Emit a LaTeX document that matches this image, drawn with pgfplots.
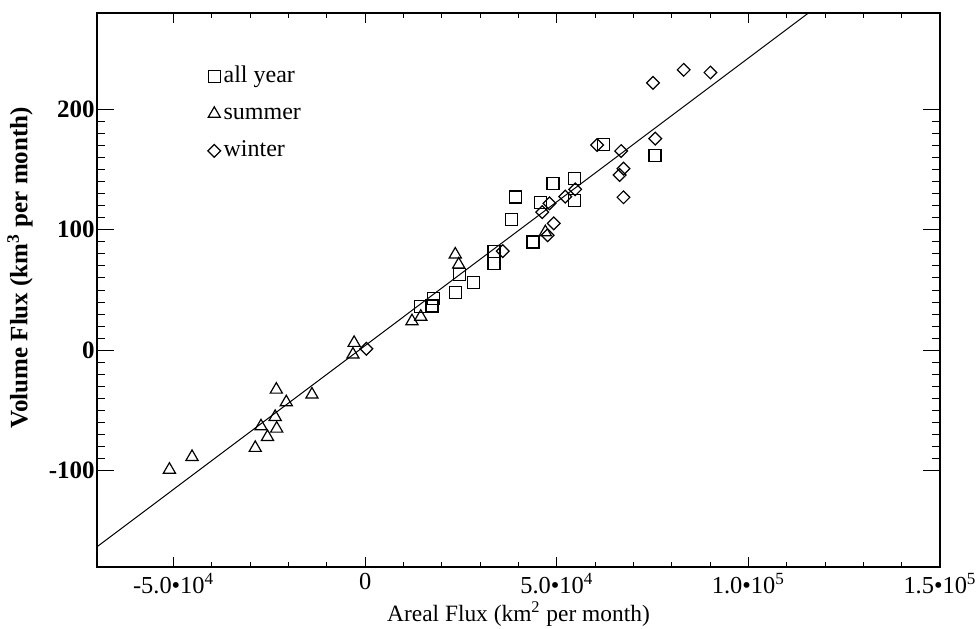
\documentclass[border=0pt]{standalone}
\usepackage{fontspec}
\setmainfont{Liberation Serif}
\usepackage{pgfplots}
\pgfplotsset{compat=1.18}

\begin{document}
\begin{tikzpicture}
\begin{axis}[
  scale only axis, width=421.5pt, height=277pt,
  xmin=-70000, xmax=150000, ymin=-180, ymax=280,
  axis line style={line width=0.8pt},
  tick align=inside,
  scaled x ticks=false,
  major tick length=8.5pt, minor tick length=4.25pt,
  xtick={-50000,0,50000,100000,150000},
  xticklabels={-5.0\textbullet10\textsuperscript{4},0,5.0\textbullet10\textsuperscript{4},1.0\textbullet10\textsuperscript{5},1.5\textbullet10\textsuperscript{5}},
  xtick style={draw=none},
  ytick={-100,0,100,200},
  yticklabels={-100,0,100,200},
  minor y tick num=9,
  ytick style={line width=0.5pt, black},
  xticklabel style={font=\fontsize{12.2}{14}\selectfont, yshift=-2pt, text depth=0pt, inner sep=1pt},
  yticklabel style={font=\bfseries\fontsize{12.5}{14}\selectfont, inner sep=1pt},
  every axis x label/.style={at={(axis description cs:0.5,0)}, yshift=-23.5pt, anchor=center, inner sep=0pt},
  every axis y label/.style={at={(axis description cs:0,0.54)}, xshift=-38.5pt, rotate=90, anchor=center},
  xlabel={Areal Flux (km\textsuperscript{2} per month)},
  ylabel={Volume Flux (km\textsuperscript{3} per month)},
  xlabel style={font=\fontsize{11.7}{14}\selectfont},
  ylabel style={font=\bfseries\fontsize{12.5}{14}\selectfont},
  legend image code/.code={\draw[#1] plot coordinates {(0cm,0cm)};},
  legend style={at={(0.124,0.918)}, anchor=north west, draw=none, fill=none,
    font=\fontsize{12}{14}\selectfont, row sep=4.5pt,
    nodes={inner sep=1.5pt, text height=8.5pt, text depth=2.5pt}},
  legend cell align=left,
]
% regression line
\addplot[black, line width=0.5pt, forget plot] coordinates {(-70000,-163.2) (116000,280.8)};

% all year
\addplot[only marks, mark=square, mark size=3pt, mark options={line width=0.6pt, draw=black}]
  coordinates {
  (14500,36) (17400,36.8) (17800,42.8) (23500,48.2) (24500,62.9) (28300,56.0)
  (33600,72.2) (33600,82.3) (38100,108.6) (39200,127.2) (43800,89.8) (45700,122.5)
  (49000,138.3) (54600,124.4) (54600,142.7) (62100,171) (75600,161.8)
  };
\addlegendentry{all year}

% summer
\addplot[only marks, mark=triangle, mark size=3.5pt, mark options={line width=0.6pt, draw=black}]
  coordinates {
  (-51100,-99.2) (-45200,-88.6) (-28700,-81.1) (-27200,-63.2) (-25500,-72.0)
  (-23500,-55.4) (-23100,-65.1) (-23200,-32.7) (-20600,-43.2) (-13900,-36.8)
  (-3200,-3.6) (-2900,6.1) (12200,24.1) (14500,27.8) (23500,79.5) (24400,71.2)
  (47000,98)
  };
\addlegendentry{summer}

% winter
\addplot[only marks, mark=square, mark size=2.25pt, mark options={rotate=45, line width=0.6pt, draw=black}]
  coordinates {
  (300,1.2) (35900,82.3) (46200,114.7) (47600,95.5) (48100,121.9) (49200,105.3)
  (52200,127.5) (54800,133.6) (60500,170.4) (66400,145.5) (66800,165.4)
  (67400,150.8) (67400,127) (75100,222) (75700,175.7) (83100,232.8) (90100,230.6)
  };
\addlegendentry{winter}
\end{axis}
% overlay axis carrying only the shorter x ticks
\begin{axis}[
  scale only axis, width=421.5pt, height=277pt,
  xmin=-70000, xmax=150000, ymin=-180, ymax=280,
  axis line style={draw=none},
  tick align=inside,
  scaled x ticks=false,
  major tick length=5pt, minor tick length=2.5pt,
  xtick={-50000,0,50000,100000,150000},
  xticklabels={},
  minor x tick num=4,
  ytick=\empty,
  xtick style={line width=0.5pt, black},
]
\end{axis}
\pgfresetboundingbox
\useasboundingbox (current axis.south west) ++(-48.5pt,-30.5pt) rectangle ([xshift=18pt,yshift=6.5pt]current axis.north east);
\end{tikzpicture}
\end{document}
